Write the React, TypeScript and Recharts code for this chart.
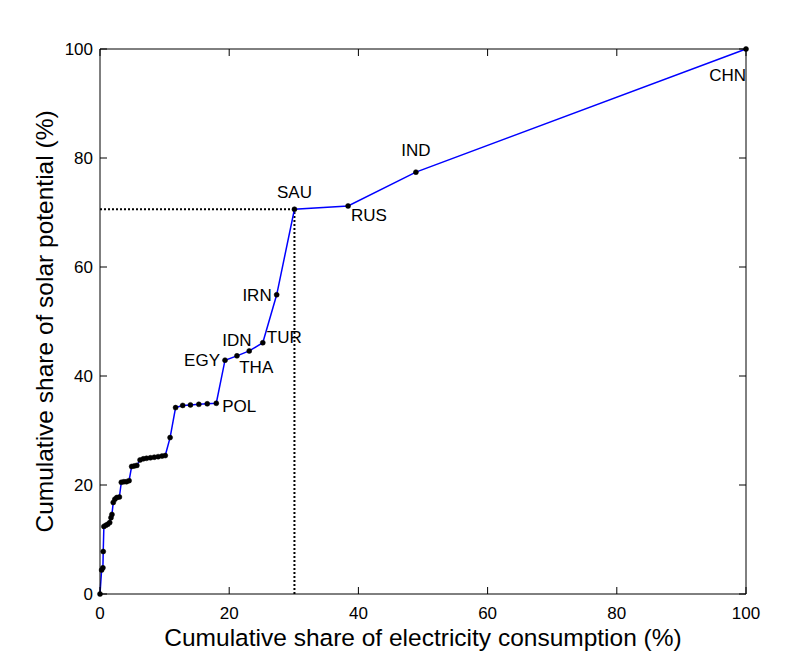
import React from "react";
import {
  ComposedChart,
  Line,
  XAxis,
  YAxis,
  ReferenceLine,
  LabelList,
} from "recharts";

// cumulative share of electricity consumption (%)
const consumption = [
  0, 0.25, 0.45, 0.5, 0.6, 0.9, 1.2, 1.5, 1.7, 1.85, 2.05, 2.3, 2.6, 3.0, 3.3,
  3.7, 4.1, 4.5, 4.9, 5.3, 5.7, 6.2, 6.7, 7.2, 7.8, 8.4, 9.0, 9.6, 10.1, 10.85,
  11.7, 12.8, 14.0, 15.3, 16.6, 18.0, 19.35, 21.2, 23.1, 25.2, 27.35, 30.1,
  38.4, 48.9, 100,
];

// cumulative share of solar potential (%)
const solar = [
  0, 4.4, 4.8, 7.8, 12.4, 12.6, 12.8, 13.1, 14.0, 14.6, 16.8, 17.4, 17.7, 17.8,
  20.5, 20.6, 20.6, 20.8, 23.4, 23.5, 23.6, 24.6, 24.8, 24.9, 25.0, 25.1, 25.2,
  25.3, 25.4, 28.7, 34.2, 34.6, 34.7, 34.8, 34.9, 35.0, 42.9, 43.7, 44.6, 46.1,
  54.9, 70.6, 71.2, 77.4, 100,
];

const labelled: Record<number, string> = {
  35: "POL",
  36: "EGY",
  37: "IDN",
  38: "THA",
  39: "TUR",
  40: "IRN",
  41: "SAU",
  42: "RUS",
  43: "IND",
  44: "CHN",
};

const ticks = [0, 20, 40, 60, 80, 100];

const data = consumption.map((x, i) => ({
  x,
  y: solar[i],
  code: labelled[i] ?? "",
}));

const sau = data[41];

// where each country label sits relative to its point
const placement: Record<string, { dx: number; dy: number; anchor: "start" | "middle" | "end" }> = {
  POL: { dx: 6, dy: 9, anchor: "start" },
  EGY: { dx: -5, dy: 6, anchor: "end" },
  IDN: { dx: 0, dy: -10, anchor: "middle" },
  THA: { dx: 7, dy: 22, anchor: "middle" },
  TUR: { dx: 4, dy: 0, anchor: "start" },
  IRN: { dx: -5, dy: 6, anchor: "end" },
  SAU: { dx: 0, dy: -11, anchor: "middle" },
  RUS: { dx: 3, dy: 15, anchor: "start" },
  IND: { dx: 0, dy: -16, anchor: "middle" },
  CHN: { dx: 0, dy: 32, anchor: "end" },
};

const FONT = "'Liberation Sans', Arial, Helvetica, sans-serif";

const renderLabel = (props: any) => {
  const { x, y, value } = props;
  if (!value) return null;
  const p = placement[value];
  return (
    <text
      x={x + p.dx}
      y={y + p.dy}
      textAnchor={p.anchor}
      fontSize={17}
      fontFamily={FONT}
      fill="#000"
    >
      {value}
    </text>
  );
};

const BottomTick = (props: any) => {
  const { x, y, payload } = props;
  return (
    <g>
      <line x1={x} y1={y} x2={x} y2={y - 7} stroke="#000" />
      <text x={x} y={y + 25} textAnchor="middle" fontSize={17} fontFamily={FONT} fill="#000">
        {payload.value}
      </text>
    </g>
  );
};

const LeftTick = (props: any) => {
  const { x, y, payload } = props;
  return (
    <g>
      <line x1={x} y1={y} x2={x + 7} y2={y} stroke="#000" />
      <text x={x - 7} y={y + 6} textAnchor="end" fontSize={17} fontFamily={FONT} fill="#000">
        {payload.value}
      </text>
    </g>
  );
};

const TopTick = (props: any) => {
  const { x, y } = props;
  return <line x1={x} y1={y} x2={x} y2={y + 7} stroke="#000" />;
};

const RightTick = (props: any) => {
  const { x, y } = props;
  return <line x1={x} y1={y} x2={x - 7} y2={y} stroke="#000" />;
};

export default function App() {
  return (
    <ComposedChart
      width={784}
      height={652}
      data={data}
      margin={{ top: 31, right: 36, bottom: 14, left: 22 }}
    >
      <XAxis
        type="number"
        dataKey="x"
        domain={[0, 100]}
        ticks={ticks}
        height={52}
        tickSize={0}
        tickMargin={0}
        tickLine={false}
        tick={<BottomTick />}
        stroke="#000"
        label={{
          value: "Cumulative share of electricity consumption (%)",
          position: "insideBottom",
          offset: 0,
          fontSize: 24.5,
          fontFamily: FONT,
          fill: "#000",
        }}
      />
      <XAxis
        xAxisId="top"
        orientation="top"
        type="number"
        dataKey="x"
        domain={[0, 100]}
        ticks={ticks}
        height={10}
        tickSize={0}
        tickMargin={0}
        tickLine={false}
        tick={<TopTick />}
        stroke="#000"
      />
      <YAxis
        type="number"
        domain={[0, 100]}
        ticks={ticks}
        width={70}
        tickSize={0}
        tickMargin={0}
        tickLine={false}
        tick={<LeftTick />}
        stroke="#000"
        label={{
          value: "Cumulative share of solar potential (%)",
          angle: -90,
          position: "insideLeft",
          offset: 14,
          style: { textAnchor: "middle" },
          fontSize: 24.5,
          fontFamily: FONT,
          fill: "#000",
        }}
      />
      <YAxis
        yAxisId="right"
        orientation="right"
        type="number"
        domain={[0, 100]}
        ticks={ticks}
        width={10}
        tickSize={0}
        tickMargin={0}
        tickLine={false}
        tick={<RightTick />}
        stroke="#000"
      />
      <ReferenceLine
        segment={[
          { x: 0, y: sau.y },
          { x: sau.x, y: sau.y },
        ]}
        stroke="#000"
        strokeWidth={2}
        strokeDasharray="2 2"
      />
      <ReferenceLine
        segment={[
          { x: sau.x, y: 0 },
          { x: sau.x, y: sau.y },
        ]}
        stroke="#000"
        strokeWidth={2}
        strokeDasharray="2 2"
      />
      {/* invisible twin so the top and right axes get drawn to close the box */}
      <Line
        xAxisId="top"
        yAxisId="right"
        type="linear"
        dataKey="y"
        stroke="none"
        dot={false}
        activeDot={false}
        legendType="none"
        isAnimationActive={false}
      />
      <Line
        type="linear"
        dataKey="y"
        stroke="#0000ff"
        strokeWidth={1.5}
        dot={{ r: 2.5, fill: "#000", stroke: "#000", strokeWidth: 0.5 }}
        isAnimationActive={false}
      >
        <LabelList dataKey="code" content={renderLabel} />
      </Line>
    </ComposedChart>
  );
}
